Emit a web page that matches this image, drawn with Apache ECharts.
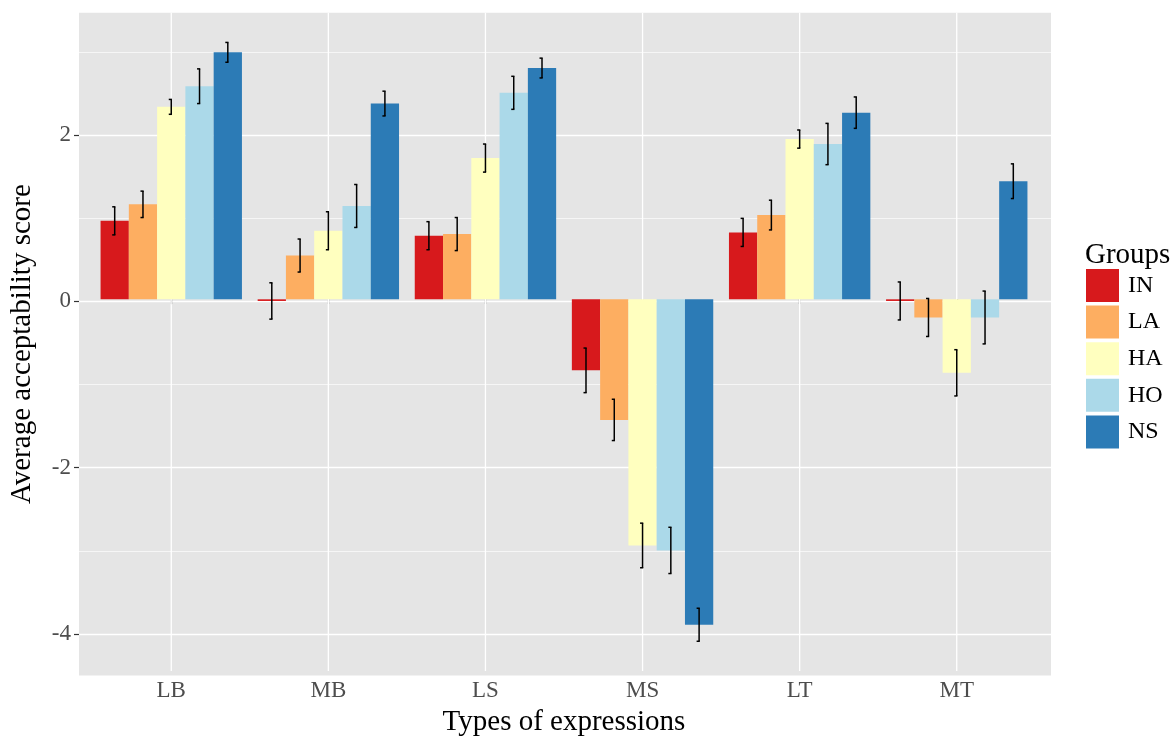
<!DOCTYPE html>
<html>
<head>
<meta charset="utf-8">
<script src="https://cdn.jsdelivr.net/npm/echarts@6/dist/echarts.min.js"></script>
<style>html,body{margin:0;padding:0;background:#fff;}#c{width:1176px;height:742px;}</style>
</head>
<body>
<div id="c"></div>
<script>
const categories = ['LB', 'MB', 'LS', 'MS', 'LT', 'MT'];
const groups = ['IN', 'LA', 'HA', 'HO', 'NS'];

const meanIN = [0.95, -0.02, 0.77, -0.86, 0.81, -0.02];
const seIN   = [0.17, 0.22, 0.17, 0.27, 0.17, 0.23];
const meanLA = [1.15, 0.53, 0.79, -1.46, 1.02, -0.22];
const seLA   = [0.16, 0.20, 0.20, 0.25, 0.18, 0.23];
const meanHA = [2.33, 0.83, 1.71, -2.98, 1.94, -0.89];
const seHA   = [0.09, 0.23, 0.17, 0.27, 0.11, 0.28];
const meanHO = [2.58, 1.13, 2.50, -3.04, 1.88, -0.22];
const seHO   = [0.21, 0.26, 0.20, 0.28, 0.25, 0.32];
const meanNS = [2.99, 2.37, 2.80, -3.94, 2.26, 1.43];
const seNS   = [0.12, 0.15, 0.12, 0.20, 0.19, 0.21];

const yMajorTicks = [-4, -2, 0, 2];
const yMinorTicks = [-3, -1, 1, 3];
const yMin = -4.5, yMax = 3.47;

const xTitle = 'Types of expressions';
const yTitle = 'Average acceptability score';
const legendTitle = 'Groups';

const means = [meanIN, meanLA, meanHA, meanHO, meanNS];
const ses = [seIN, seLA, seHA, seHO, seNS];
const colors = ['#D7191C', '#FDAE61', '#FFFFBF', '#ABD9E9', '#2C7BB6'];
const serif = 'Liberation Serif, Times New Roman, serif';

const chart = echarts.init(document.getElementById('c'), null, {renderer: 'canvas'});

const series = [];
// vertical grid lines at category centres (behind bars)
series.push({
  type: 'custom', name: '_vgrid', xAxisIndex: 1, yAxisIndex: 2, z: 1, silent: true,
  encode: {x: 0},
  data: categories.map((c, i) => [i]),
  renderItem: function (params, api) {
    const cs = params.coordSys;
    const x = api.coord([api.value(0), 0])[0];
    return {type: 'line', shape: {x1: x, y1: cs.y, x2: x, y2: cs.y + cs.height},
      style: {stroke: '#ffffff', lineWidth: 1.3}};
  }
});
groups.forEach((g, gi) => {
  series.push({
    type: 'bar', name: g, xAxisIndex: 1, yAxisIndex: 2, z: 2,
    barGap: '0%', barCategoryGap: '10%',
    itemStyle: {color: colors[gi]},
    data: means[gi]
  });
});
groups.forEach((g, gi) => {
  series.push({
    type: 'custom', name: 'err-' + g, xAxisIndex: 1, yAxisIndex: 2, z: 3,
    encode: {x: 0, y: 1},
    data: categories.map((c, i) => [i, means[gi][i], ses[gi][i]]),
    renderItem: function (params, api) {
      const ci = api.value(0), m = api.value(1), s = api.value(2);
      const band = api.size([1, 0])[0];
      const bw = band * 0.9 / groups.length;
      const off = (gi - (groups.length - 1) / 2) * bw;
      const top = api.coord([ci, m + s]);
      const bot = api.coord([ci, m - s]);
      const x = top[0] + off;
      const st = {stroke: '#000', lineWidth: 1.5};
      return {type: 'group', children: [
        {type: 'line', shape: {x1: x, y1: top[1], x2: x, y2: bot[1]}, style: st},
        {type: 'line', shape: {x1: x - 2.5, y1: top[1], x2: x + 0.7, y2: top[1]}, style: st},
        {type: 'line', shape: {x1: x - 2.5, y1: bot[1], x2: x + 0.7, y2: bot[1]}, style: st}
      ]};
    }
  });
});

const option = {
  animation: false,
  title: {
    text: legendTitle, left: 1085, top: 241, padding: 0,
    textStyle: {fontFamily: serif, fontSize: 29, fontWeight: 'normal', color: '#000'}
  },
  legend: {
    data: groups, orient: 'vertical', left: 1086, top: 269, padding: 0,
    itemWidth: 33, itemHeight: 33, itemGap: 3.6, icon: 'rect', selectedMode: false,
    textStyle: {fontFamily: serif, fontSize: 24, color: '#000', padding: [0, 0, 0, 4]}
  },
  grid: [
    {left: 77, right: 125, top: 12.7, bottom: 66.5, show: true, backgroundColor: '#e5e5e5', borderWidth: 0, containLabel: false},
    {left: 92.7, right: 140.7, top: 12.7, bottom: 66.5, show: false, containLabel: false}
  ],
  xAxis: [
    {type: 'value', gridIndex: 0, show: false, min: 0, max: 1},
    {
      type: 'category', gridIndex: 1, data: categories, boundaryGap: true,
      axisLine: {show: false},
      axisTick: {show: true, alignWithLabel: true, length: 5, lineStyle: {color: '#333', width: 1.2}},
      axisLabel: {fontFamily: serif, fontSize: 23, color: '#4d4d4d', margin: 8},
      splitLine: {show: false},
      name: xTitle, nameLocation: 'middle', nameGap: 37,
      nameTextStyle: {fontFamily: serif, fontSize: 29, color: '#000'}
    }
  ],
  yAxis: [
    {
      type: 'value', gridIndex: 0, min: yMin, max: yMax,
      axisLine: {show: false},
      axisTick: {show: true, length: 5, lineStyle: {color: '#333', width: 1.2}, customValues: yMajorTicks},
      axisLabel: {fontFamily: serif, fontSize: 23, color: '#4d4d4d', margin: 8, customValues: yMajorTicks},
      splitLine: {show: true, lineStyle: {color: '#ffffff', width: 1.4}},
      name: yTitle, nameLocation: 'middle', nameGap: 42, nameRotate: 90,
      nameTextStyle: {fontFamily: serif, fontSize: 29, color: '#000'}
    },
    {
      type: 'value', gridIndex: 0, min: yMin, max: yMax, position: 'left',
      axisLine: {show: false},
      axisTick: {show: false, customValues: yMinorTicks},
      axisLabel: {show: false, customValues: yMinorTicks},
      splitLine: {show: true, lineStyle: {color: '#f6f6f6', width: 1.0}}
    },
    {
      type: 'value', gridIndex: 1, min: yMin, max: yMax, show: false,
      splitLine: {show: false}
    }
  ],
  series: series
};
chart.setOption(option);
</script>
</body>
</html>
